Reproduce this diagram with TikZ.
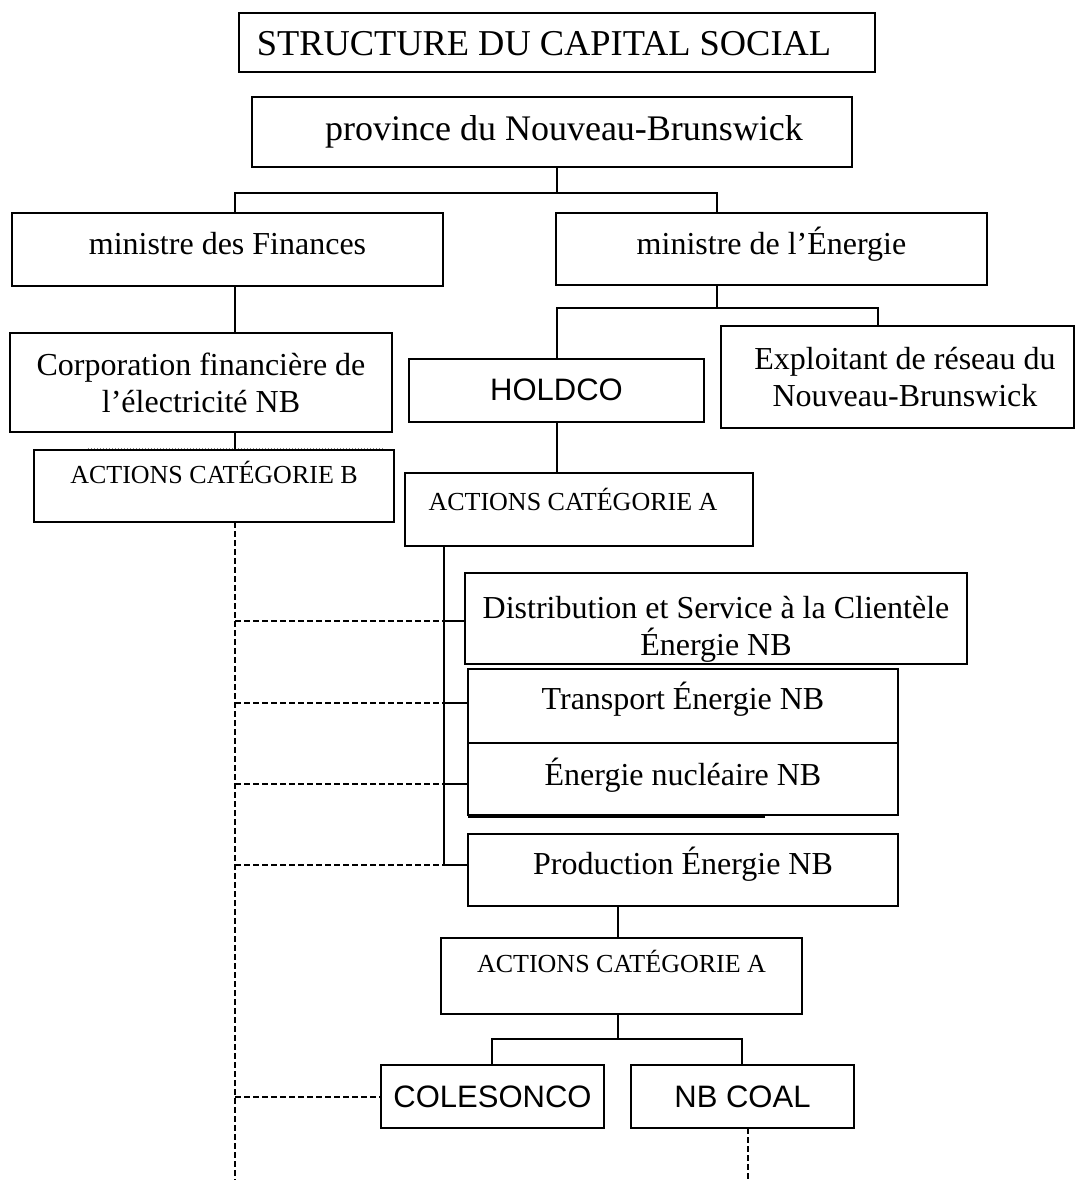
\documentclass[tikz,border=0pt]{standalone}
\usepackage{fontspec}
\setmainfont{Liberation Serif}
\newfontfamily\arialf{Liberation Sans}
\begin{document}
\begin{tikzpicture}[x=1pt,y=-1pt,
  box/.style={draw, line width=1.6pt, inner sep=0pt, outer sep=0pt, anchor=north west},
  conn/.style={line width=1.6pt},
  dsh/.style={line width=1.3pt, dash pattern=on 6pt off 3pt},
  big/.style={font=\fontsize{36}{41}\selectfont},
  mid/.style={font=\fontsize{32}{37}\selectfont},
  small/.style={font=\fontsize{26}{30}\selectfont},
  sans/.style={font=\arialf\fontsize{31}{36}\selectfont},
  multi/.style={align=center}]
\useasboundingbox (0,0) rectangle (1076,1180);

% boxes
\node[box, font=\fontsize{36.4}{41}\selectfont, minimum width=636pt, text height=43pt, text depth=16pt] (title) at (239,13) {STRUCTURE DU CAPITAL SOCIAL\hspace*{26pt}};
\node[box, big, minimum width=600pt, text height=43pt, text depth=27pt] (prov) at (252,97) {\hspace*{24pt}province du Nouveau-Brunswick};
\node[box, mid, minimum width=431pt, text height=41pt, text depth=32pt] (fin) at (12,213) {ministre des Finances};
\node[box, mid, minimum width=431pt, text height=41pt, text depth=31pt] (en) at (556,213) {ministre de l’Énergie};
\node[box, mid, multi, minimum width=382pt, minimum height=99pt] (corp) at (10,333) {Corporation financière de\\l’électricité NB};
\node[box, small, minimum width=360pt, text height=33pt, text depth=39pt] (actB) at (34,450) {ACTIONS CATÉGORIE B};
\node[box, sans, minimum width=295pt, text height=41pt, text depth=22pt] (hold) at (409,359) {HOLDCO};
\node[box, mid, multi, minimum width=353pt, minimum height=102pt] (expl) at (721,326) {\hspace*{15pt}Exploitant de réseau du\\\hspace*{15pt}Nouveau-Brunswick};
\node[box, small, minimum width=348pt, text height=37pt, text depth=36pt] (actA) at (405,473) {ACTIONS CATÉGORIE A\hspace*{12pt}};
\node[box, mid, multi, minimum width=502pt, minimum height=91pt] (dist) at (465,573) {\rule{0pt}{44pt}Distribution et Service à la Clientèle\\Énergie NB};
\node[box, mid, minimum width=430pt, text height=40pt, text depth=34pt] (trans) at (468,669) {Transport Énergie NB};
\node[box, mid, minimum width=430pt, text height=42pt, text depth=30pt] (nuc) at (468,743) {Énergie nucléaire NB};
\node[box, mid, minimum width=430pt, text height=40pt, text depth=32pt] (prod) at (468,834) {Production Énergie NB};
\node[box, small, minimum width=361pt, text height=34pt, text depth=42pt] (actA2) at (441,938) {ACTIONS CATÉGORIE A};
\node[box, sans, minimum width=223pt, text height=42pt, text depth=21pt] (cole) at (381,1065) {COLESONCO};
\node[box, sans, minimum width=223pt, text height=42pt, text depth=21pt] (nbc) at (631,1065) {NB COAL};

% stray marks of the original
\draw[line width=1pt, gray, dotted] (88,448) -- (383,448);
\draw[line width=1.6pt] (468,817) -- (765,817);

% junction coordinates
\coordinate (jTop) at (557,193);
\coordinate (jFin) at (235,193);
\coordinate (jEn) at (717,193);
\coordinate (jE2) at (717,308);
\coordinate (jH) at (557,308);
\coordinate (jX) at (878,308);
\coordinate (jA) at (444,865);
\coordinate (cD) at (444,621);
\coordinate (cT) at (444,703);
\coordinate (cN) at (444,784);
\coordinate (cP) at (444,865);
\coordinate (jP) at (618,1039);
\coordinate (jC) at (492,1039);
\coordinate (jN) at (742,1039);
\coordinate (cC) at (235,1097);
\coordinate (eL) at (235,1180);
\coordinate (eN) at (748,1180);

% solid connectors
\draw[conn] (jTop |- prov.south) -- (jTop);
\draw[conn] (jFin |- fin.north) -- (jFin) -- (jEn) -- (jEn |- en.north);
\draw[conn] (jFin |- fin.south) -- (jFin |- corp.north);
\draw[conn] (jFin |- corp.south) -- (jFin |- actB.north);
\draw[conn] (jE2 |- en.south) -- (jE2);
\draw[conn] (jH |- hold.north) -- (jH) -- (jX) -- (jX |- expl.north);
\draw[conn] (jH |- hold.south) -- (jH |- actA.north);
\draw[conn] (jA |- actA.south) -- (jA);
\draw[conn] (cD) -- (cD -| dist.west);
\draw[conn] (cT) -- (cT -| trans.west);
\draw[conn] (cN) -- (cN -| nuc.west);
\draw[conn] (cP) -- (cP -| prod.west);
\draw[conn] (jP |- prod.south) -- (jP |- actA2.north);
\draw[conn] (jP |- actA2.south) -- (jP);
\draw[conn] (jC |- cole.north) -- (jC) -- (jN) -- (jN |- nbc.north);

% dashed connectors
\draw[dsh] (eL |- actB.south) -- (eL);
\draw[dsh] (cD -| eL) -- (cD);
\draw[dsh] (cT -| eL) -- (cT);
\draw[dsh] (cN -| eL) -- (cN);
\draw[dsh] (cP -| eL) -- (cP);
\draw[dsh] (cC) -- (cC -| cole.west);
\draw[dsh] (eN |- nbc.south) -- (eN);
\end{tikzpicture}
\end{document}
